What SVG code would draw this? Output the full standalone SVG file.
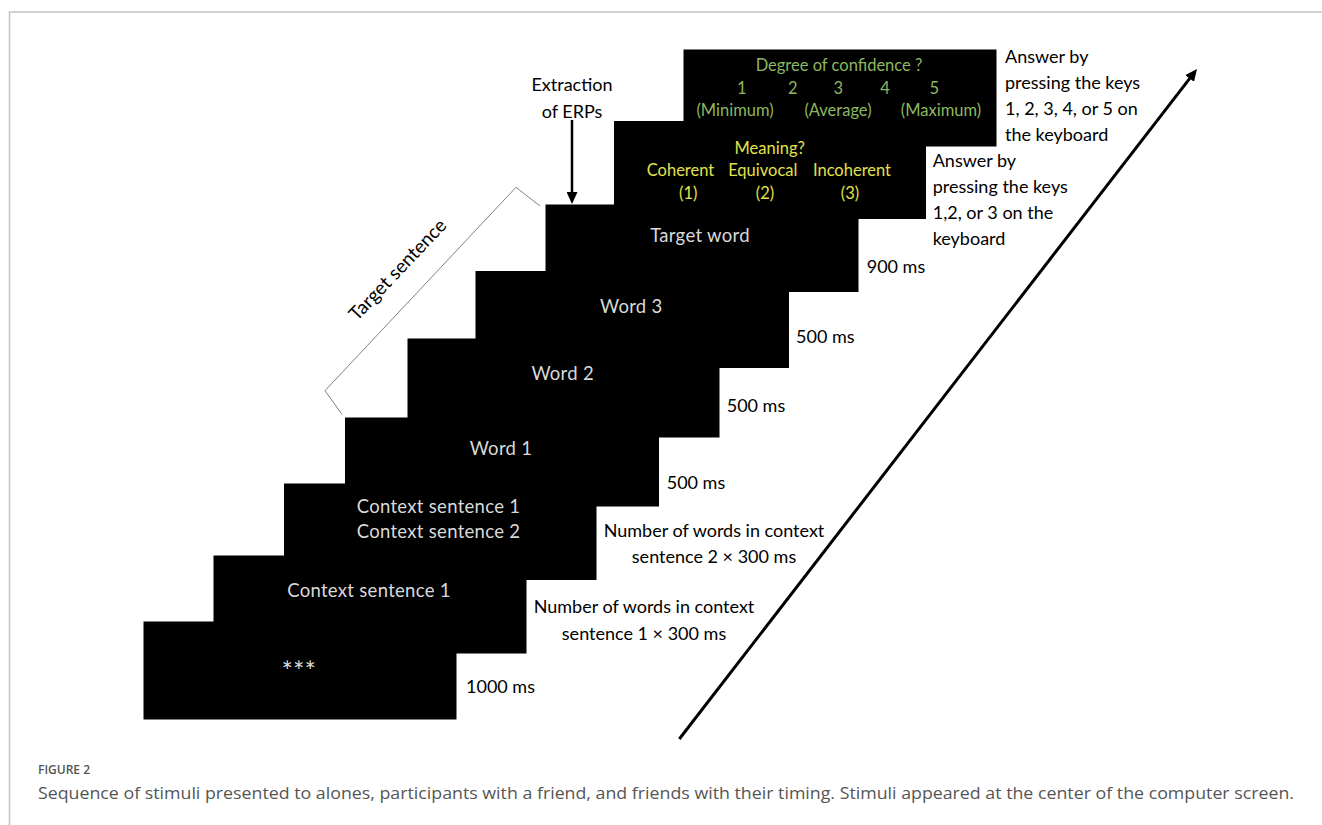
<svg xmlns="http://www.w3.org/2000/svg" width="1322" height="825" viewBox="0 0 1322 825">
<style>
.scr{fill:#000}
.t{font-family:Lato,"Noto Sans","Liberation Sans",sans-serif}
.w{fill:#d9d9d9;font-size:18.5px;text-anchor:middle;letter-spacing:0.3px}
.g{fill:#8db75f;font-size:16.5px;text-anchor:middle}
.y{fill:#e2e24a;font-size:16.5px;text-anchor:middle}
.k{fill:#000;font-size:18px}
.km{fill:#000;font-size:18px;text-anchor:middle}
.cap{font-family:"Open Sans","Noto Sans","Liberation Sans",sans-serif;fill:#555}
</style>
<defs>
<marker id="ah" markerUnits="userSpaceOnUse" viewBox="0 0 12 11" refX="4" refY="5.5" markerWidth="12" markerHeight="11" orient="auto">
<path d="M0,0 L12,5.5 L0,11 z" fill="#000"/>
</marker>
</defs>
<rect x="0" y="0" width="1322" height="825" fill="#fff"/>
<g id="frame" fill="none" stroke="#c4c4c4" stroke-width="1.5">
<path d="M9.5,825 V12 H1322"/>
</g>
<g id="screen9"><rect class="scr" x="683.5" y="49.5" width="313" height="97"/>
<text class="t g" x="839" y="70.5">Degree of confidence ?</text>
<text class="t g" x="741.7" y="94">1</text>
<text class="t g" x="792.7" y="94">2</text>
<text class="t g" x="838.3" y="94">3</text>
<text class="t g" x="885" y="94">4</text>
<text class="t g" x="934.3" y="94">5</text>
<text class="t g" x="735" y="116">(Minimum)</text>
<text class="t g" x="838" y="116">(Average)</text>
<text class="t g" x="941" y="116">(Maximum)</text>
</g>
<g id="screen8"><rect class="scr" x="614" y="121" width="312" height="98"/>
<text class="t y" x="769.7" y="153.5">Meaning?</text>
<text class="t y" x="680.5" y="175.5">Coherent</text>
<text class="t y" x="762.8" y="175.5">Equivocal</text>
<text class="t y" x="852" y="175.5">Incoherent</text>
<text class="t y" x="688.3" y="198.5">(1)</text>
<text class="t y" x="765" y="198.5">(2)</text>
<text class="t y" x="850" y="198.5">(3)</text>
</g>
<g id="screen7"><rect class="scr" x="545.5" y="204.5" width="313" height="87.5"/>
<text class="t w" x="700" y="242">Target word</text></g>
<g id="screen6"><rect class="scr" x="475.5" y="271" width="313.5" height="97"/>
<text class="t w" x="631.3" y="312.5">Word 3</text></g>
<g id="screen5"><rect class="scr" x="407.5" y="338.5" width="312" height="99"/>
<text class="t w" x="562.7" y="380">Word 2</text></g>
<g id="screen4"><rect class="scr" x="345" y="417.5" width="314" height="89"/>
<text class="t w" x="501" y="455">Word 1</text></g>
<g id="screen3"><rect class="scr" x="284" y="483.5" width="312.5" height="96.5"/>
<text class="t w" x="438.5" y="512.5">Context sentence 1</text>
<text class="t w" x="438.5" y="538">Context sentence 2</text></g>
<g id="screen2"><rect class="scr" x="213.5" y="555.5" width="313" height="98"/>
<text class="t w" x="369" y="597">Context sentence 1</text></g>
<g id="screen1"><rect class="scr" x="143.5" y="621.5" width="313" height="98"/>
<text class="t w" x="298.8" y="681" style="font-size:27px;letter-spacing:0">***</text></g>
<g id="labels">
<text class="t k" x="466" y="692.5">1000 ms</text>
<text class="t km" x="644" y="613">Number of words in context</text>
<text class="t km" x="644" y="639.5">sentence 1 × 300 ms</text>
<text class="t km" x="714" y="536.5">Number of words in context</text>
<text class="t km" x="714" y="562.5">sentence 2 × 300 ms</text>
<text class="t k" x="666.7" y="489">500 ms</text>
<text class="t k" x="726.7" y="412">500 ms</text>
<text class="t k" x="796" y="342.5">500 ms</text>
<text class="t k" x="866.7" y="273">900 ms</text>
<text class="t k" x="1005" y="63">Answer by</text>
<text class="t k" x="1005" y="89">pressing the keys</text>
<text class="t k" x="1005" y="115">1, 2, 3, 4, or 5 on</text>
<text class="t k" x="1005" y="141">the keyboard</text>
<text class="t k" x="932.7" y="166.5">Answer by</text>
<text class="t k" x="932.7" y="192.5">pressing the keys</text>
<text class="t k" x="932.7" y="218.5">1,2, or 3 on the</text>
<text class="t k" x="932.7" y="244.5">keyboard</text>
<text class="t km" x="572" y="91">Extraction</text>
<text class="t km" x="572" y="117.5">of ERPs</text>
<text class="t km" transform="translate(398,270) rotate(-46.5)" x="0" y="6" style="font-size:19px">Target sentence</text>
</g>
<g id="connectors" fill="none">
<path d="M540,206 L516,187.3 L325,390.7 L342,414.3" stroke="#808080" stroke-width="1"/>
<line x1="572" y1="120" x2="572" y2="196" stroke="#000" stroke-width="2.5" marker-end="url(#ah)"/>
<line x1="679.3" y1="739" x2="1192.1" y2="75.3" stroke="#000" stroke-width="3" marker-end="url(#ah)"/>
</g>
<g id="caption">
<text class="cap" x="38" y="774" font-size="12" font-weight="600">FIGURE 2</text>
<text class="cap" x="38" y="799" font-size="15.5" textLength="1256" lengthAdjust="spacingAndGlyphs">Sequence of stimuli presented to alones, participants with a friend, and friends with their timing. Stimuli appeared at the center of the computer screen.</text>
</g>
</svg>
